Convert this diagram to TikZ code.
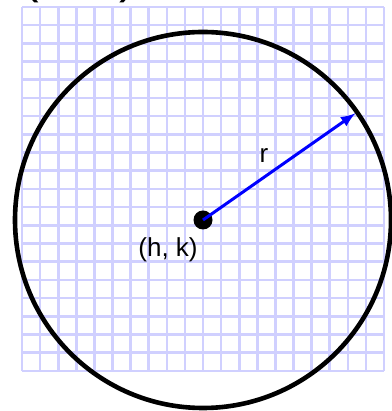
\documentclass[tikz,border=0pt]{standalone}
\usepackage{fontspec}
\setmainfont{Liberation Sans}
\definecolor{gridblue}{RGB}{208,208,255}
\begin{document}
\begin{tikzpicture}[x=0.5pt, y=0.5pt, >=latex]
    \useasboundingbox (0,0) rectangle (391,411);

    % 1. Lưới ô vuông nền
    \foreach \i in {0,...,20} {
        \draw[gridblue, line width=1.3pt] (22+\i*18.1, 40) -- (22+\i*18.1, 404);
        \draw[gridblue, line width=1.3pt] (22, 40+\i*18.2) -- (384, 40+\i*18.2);
    }

    % 2. Nhãn phía trên (bị cắt)
    \node[anchor=base west, inner sep=0pt, font=\fontsize{25}{30}\selectfont] (top) at (22,418) {(h, k)};

    % 3. Đường tròn tâm (h, k)
    \coordinate (C) at (203,191);
    \draw[line width=2.3pt] (C) circle (188);

    % 4. Tâm và bán kính
    \node[circle, fill=black, inner sep=0pt, minimum size=9.5pt] (dot) at (C) {};
    \path (C) ++(35:186) coordinate (P);
    \draw[->, blue, line width=1.5pt] (dot.center) -- (P);

    % 5. Nhãn
    \node[font=\fontsize{13}{15}\selectfont] (hk) at (168,161) {(h, k)};
    \node[font=\fontsize{13}{15}\selectfont] (r) at (264,255) {r};
\end{tikzpicture}
\end{document}
